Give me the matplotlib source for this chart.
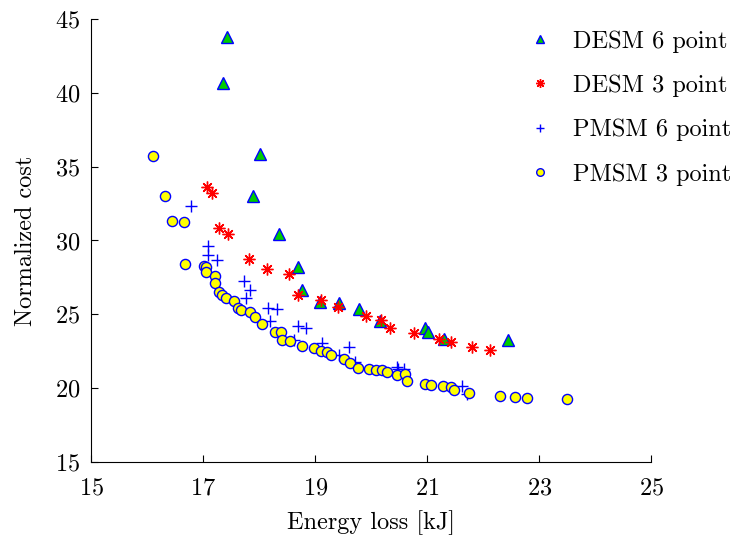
import numpy as np
import matplotlib
matplotlib.use('Agg')
import matplotlib.pyplot as plt

plt.rcParams['font.family'] = 'serif'
plt.rcParams['font.serif'] = ['cmr10', 'DejaVu Serif']
plt.rcParams['mathtext.fontset'] = 'cm'
plt.rcParams['axes.unicode_minus'] = False
plt.rcParams['axes.formatter.use_mathtext'] = True

# DESM 6 point
desm6_x = [17.43, 17.35, 18.02, 17.88, 18.36, 18.69, 18.77, 19.09, 19.43, 19.79,
           20.16, 20.96, 21.01, 21.30, 22.45]
desm6_y = [43.76, 40.65, 35.86, 33.02, 30.41, 28.23, 26.62, 25.81, 25.77, 25.37,
           24.52, 24.11, 23.83, 23.33, 23.27]

# DESM 3 point
desm3_x = [17.07, 17.16, 17.29, 17.45, 17.82, 18.13, 18.53, 18.69, 19.11, 19.40,
           19.91, 20.18, 20.34, 20.76, 21.21, 21.42, 21.80, 22.12]
desm3_y = [33.65, 33.20, 30.83, 30.44, 28.73, 28.05, 27.72, 26.31, 25.98, 25.52,
           24.91, 24.62, 24.06, 23.76, 23.33, 23.15, 22.81, 22.59]

# PMSM 6 point
pmsm6_x = [16.78, 17.08, 17.08, 17.25, 17.72, 17.84, 17.76, 18.16, 18.31, 18.20,
           18.70, 18.84, 18.62, 19.13, 19.61, 19.43, 19.71, 20.46, 20.48, 20.59,
           21.63, 21.71]
pmsm6_y = [32.36, 29.65, 29.00, 28.70, 27.28, 26.65, 26.13, 25.45, 25.35, 24.55,
           24.21, 24.11, 23.27, 23.08, 22.77, 22.25, 21.80, 21.46, 21.28, 21.28,
           20.15, 19.61]

# PMSM 3 point
pmsm3_x = [16.10, 16.32, 16.45, 16.66, 16.68, 17.01, 17.05, 17.05, 17.21, 17.21,
           17.28, 17.33, 17.40, 17.55, 17.62, 17.67, 17.84, 17.93, 18.05, 18.29,
           18.39, 18.41, 18.55, 18.77, 18.98, 19.11, 19.21, 19.28, 19.51, 19.63,
           19.76, 19.96, 20.08, 20.19, 20.29, 20.46, 20.61, 20.64, 20.96, 21.07,
           21.29, 21.42, 21.48, 21.74, 22.30, 22.56, 22.79, 23.49]
pmsm3_y = [35.74, 33.02, 31.30, 31.26, 28.41, 28.28, 28.21, 27.85, 27.60, 27.15,
           26.54, 26.31, 26.13, 25.89, 25.45, 25.30, 25.18, 24.80, 24.35, 23.79,
           23.79, 23.27, 23.22, 22.86, 22.75, 22.54, 22.43, 22.23, 21.98, 21.73,
           21.39, 21.28, 21.22, 21.22, 21.10, 20.92, 20.94, 20.51, 20.29, 20.20,
           20.15, 20.08, 19.88, 19.70, 19.50, 19.39, 19.32, 19.25]

fs = 17.5

fig = plt.figure(figsize=(7.3, 5.38), dpi=100)
ax = fig.add_axes([0.125, 0.141, 0.767, 0.824])

ax.plot(desm6_x, desm6_y, linestyle='none', marker='^', markersize=8,
        markerfacecolor='#00cc00', markeredgecolor='blue', markeredgewidth=1.0,
        label='DESM 6 point')
ax.plot(desm3_x, desm3_y, linestyle='none', marker=(8, 2, 0), markersize=8.5,
        color='red', markeredgewidth=1.0, label='DESM 3 point')
ax.plot(pmsm6_x, pmsm6_y, linestyle='none', marker='+', markersize=8,
        color='blue', markeredgewidth=1.0, label='PMSM 6 point')
ax.plot(pmsm3_x, pmsm3_y, linestyle='none', marker='o', markersize=7.3,
        markerfacecolor='yellow', markeredgecolor='blue', markeredgewidth=1.0,
        label='PMSM 3 point')

ax.set_xlim(15, 25)
ax.set_ylim(15, 45)
ax.set_xticks(np.arange(15, 26, 2))
ax.set_yticks(np.arange(15, 46, 5))
ax.spines['top'].set_visible(False)
ax.spines['right'].set_visible(False)
ax.tick_params(direction='in', labelsize=fs, length=5, width=0.8)
ax.tick_params(axis='x', pad=11)
ax.tick_params(axis='y', pad=8)
ax.set_xlabel('Energy loss [kJ]', fontsize=fs, labelpad=8)
ax.set_ylabel('Normalized cost', fontsize=fs, labelpad=13)

ax.legend(loc='upper left', bbox_to_anchor=(0.717, 0.944),
          bbox_transform=fig.transFigure, frameon=False, fontsize=fs,
          numpoints=1, handlelength=1.4, handletextpad=0.62,
          labelspacing=0.9, borderpad=0, borderaxespad=0, markerscale=0.75)

fig.savefig('out.png', dpi=100)
